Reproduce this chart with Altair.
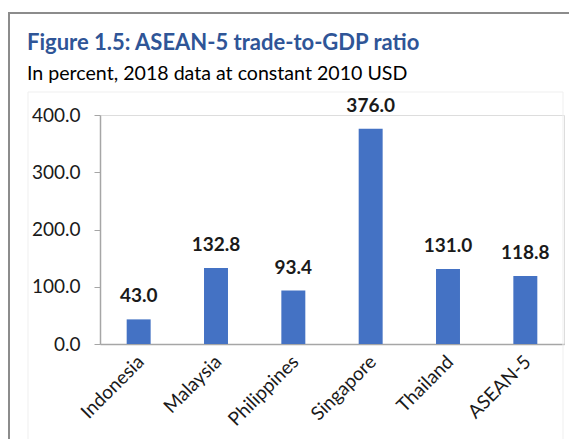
import altair as alt
import pandas as pd

categories = ["Indonesia", "Malaysia", "Philippines", "Singapore", "Thailand", "ASEAN-5"]
values = [43.0, 132.8, 93.4, 376.0, 131.0, 118.8]
y_ticks = [0, 100, 200, 300, 400]
title_text = "Figure 1.5: ASEAN-5 trade-to-GDP ratio"
subtitle_text = "In percent, 2018 data at constant 2010 USD"

df = pd.DataFrame({"country": categories, "ratio": values})
FONT = "Lato"
AXIS_GRAY = "#A6A6A6"
TEXT = "#1A1A1A"

x = alt.X(
    "country:N", sort=categories, title=None,
    scale=alt.Scale(paddingInner=0.69, paddingOuter=0.345),
    axis=alt.Axis(labelAngle=-45, ticks=False, domainColor=AXIS_GRAY, domainWidth=1.5,
                  labelFontSize=19, labelColor=TEXT, labelPadding=8, labelOffset=-4,
                  labelFont=FONT),
)
y = alt.Y(
    "ratio:Q", title=None, scale=alt.Scale(domain=[0, 400], nice=False),
    axis=alt.Axis(values=y_ticks, format=".1f", grid=False, tickColor=AXIS_GRAY,
                  domainColor=AXIS_GRAY, domainWidth=1.5, tickSize=6, labelFontSize=19,
                  labelPadding=14, labelColor=TEXT, labelFont=FONT),
)

bars = alt.Chart(df).mark_bar(color="#4472C4").encode(x=x, y=y)
labels = alt.Chart(df).mark_text(
    fontWeight="bold", fontSize=19, dy=-17, baseline="alphabetic", font=FONT, color=TEXT
).encode(x=x, y=y, text=alt.Text("ratio:Q", format=".1f"))

dummy = pd.DataFrame({"d": [0]})
area_box = alt.Chart(dummy).mark_rect(fill="transparent", stroke="#EFEFEF", strokeWidth=1).encode(
    x=alt.value(-72), x2=alt.value(463), y=alt.value(-23), y2=alt.value(340)
)
top_border = alt.Chart(dummy).mark_rule(color="#8C8C8C", strokeWidth=2).encode(
    x=alt.value(-91), x2=alt.value(480), y=alt.value(-102)
)
left_border = alt.Chart(dummy).mark_rule(color="#8C8C8C", strokeWidth=2).encode(
    x=alt.value(-91), y=alt.value(-103), y2=alt.value(340)
)
title_mark = alt.Chart(pd.DataFrame({"t": [title_text]})).mark_text(
    align="left", baseline="alphabetic", font=FONT, fontSize=22, fontWeight="bold", color="#2F5597"
).encode(x=alt.value(-73), y=alt.value(-65), text="t:N")
subtitle_mark = alt.Chart(pd.DataFrame({"t": [subtitle_text]})).mark_text(
    align="left", baseline="alphabetic", font=FONT, fontSize=19.6, color="#000000"
).encode(x=alt.value(-73), y=alt.value(-35), text="t:N")

chart = alt.layer(area_box, top_border, left_border, title_mark, subtitle_mark, bars, labels).properties(
    width=464,
    height=229,
    autosize=alt.AutoSizeParams(type="none"),
    padding={"left": 92, "top": 107, "right": 5, "bottom": 95},
).configure_view(stroke=None).configure(background="white")

chart.save("out.html", embed_options={"renderer": "svg", "actions": False})
